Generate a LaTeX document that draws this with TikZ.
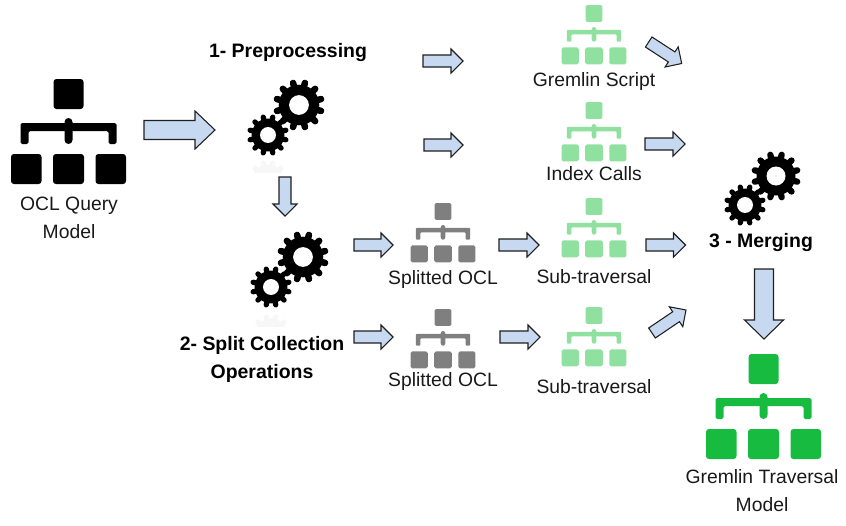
\documentclass[tikz,border=0pt]{standalone}
\usepackage{fontspec}
\setmainfont{Liberation Sans}
\definecolor{arrowfill}{HTML}{C6D9F1}
\definecolor{arrowline}{HTML}{1F1F1F}
\definecolor{lightgreen}{HTML}{90E0A0}
\definecolor{darkgreen}{HTML}{17BB3F}
\definecolor{midgrey}{HTML}{7F7F7F}
\tikzset{
  x=0.75pt,y=-0.75pt,
  blockarrow/.style={draw=arrowline,fill=arrowfill,line width=0.8pt,line join=miter},
  lbl/.style={font=\fontsize{14.5}{21}\selectfont,align=center,inner sep=0pt,text=black!90},
  steplabel/.style={font=\fontsize{14.6}{21}\selectfont\bfseries,align=center,inner sep=0pt,text=black}
}
% from x,y  to x,y  shaft width, head width, head length
\newcommand{\blockarr}[8]{%
  \coordinate (#1-a) at (#2,#3);
  \coordinate (#1-b) at (#4,#5);
  \pgfmathsetmacro{\arrL}{veclen(#4-#2,#5-#3)}%
  \pgfmathsetmacro{\arrA}{atan2(#5-#3,#4-#2)}%
  \begin{scope}[shift={(#1-a)},rotate=-\arrA]
    \draw[blockarrow] (0,-#6/2) -- (\arrL-#8,-#6/2) -- (\arrL-#8,-#7/2) -- (\arrL,0)
       -- (\arrL-#8,#7/2) -- (\arrL-#8,#6/2) -- (0,#6/2) -- cycle;
  \end{scope}}
% centre x, top y, scale, colour
\newcommand{\hierarchy}[5]{%
  \coordinate (#1) at (#2,#3);
  \begin{scope}[shift={(#1)},scale=#4]
    \pgfmathsetmacro{\rc}{2.2*#4}%
    \pgfmathsetmacro{\rs}{1.2*#4}%
    \fill[#5,rounded corners=\rc pt] (-15,0) rectangle (15,30);
    \fill[#5,rounded corners=\rc pt] (-57.5,75) rectangle (-27,105);
    \fill[#5,rounded corners=\rc pt] (-15.5,75) rectangle (15.5,105);
    \fill[#5,rounded corners=\rc pt] (27,75) rectangle (57.5,105);
    \fill[#5,rounded corners=\rs pt] (-48,65) -- (-48,44) -- (48,44) -- (48,65) -- (40,65)
       -- (40,52) -- (-40,52) -- (-40,65) -- cycle;
    \pgfmathsetmacro{\rt}{3*#4}%
    \fill[#5,rounded corners=\rt pt] (-4,39) rectangle (4,65);
  \end{scope}}
% centre x,y, radius, colour
\newcommand{\gearshape}[4]{%
  \begin{scope}[shift={(#1,#2)}]
    \pgfmathsetmacro{\gw}{#3*0.75*0.25}%
    \fill[#4] (0,0) circle[radius=#3*0.78];
    \foreach \gi in {0,30,...,330}{
      \draw[#4,line width=\gw pt,line cap=round]
        (\gi+15:#3*0.6) -- (\gi+15:#3*0.88);
    }
    \fill[white] (0,0) circle[radius=#3*0.38];
  \end{scope}}
\begin{document}
\begin{tikzpicture}
\useasboundingbox (0,0) rectangle (846,525);
% faint reflections
\begin{scope}
  \clip (245,160) rectangle (290,172);
  \gearshape{268}{181}{21}{black!3}
\end{scope}
\begin{scope}
  \clip (248,314) rectangle (293,326);
  \gearshape{271}{335}{21}{black!3}
\end{scope}
% gears
\gearshape{299}{105}{26}{black}
\gearshape{268}{135}{21}{black}
\gearshape{303}{257}{26}{black}
\gearshape{271}{287}{21}{black}
\gearshape{776}{176}{25}{black}
\gearshape{745}{205}{21}{black}
% hierarchy icons
\hierarchy{oclicon}{68.5}{79}{1}{black}
\hierarchy{scripticon}{594}{5}{0.565}{lightgreen}
\hierarchy{indexicon}{594}{102}{0.565}{lightgreen}
\hierarchy{subaicon}{594}{198}{0.565}{lightgreen}
\hierarchy{subbicon}{594}{307}{0.565}{lightgreen}
\hierarchy{splitaicon}{443}{203}{0.565}{midgrey}
\hierarchy{splitbicon}{443}{309}{0.565}{midgrey}
\hierarchy{gremlinicon}{763.5}{354}{1}{darkgreen}
% texts
\node[lbl] (ocl) at (69,218) {OCL Query\\Model};
\node[lbl] (script) at (594,81) {Gremlin Script};
\node[lbl] (index) at (594,174) {Index Calls};
\node[lbl] (splita) at (443,279) {Splitted OCL};
\node[lbl] (suba) at (594,277) {Sub-traversal};
\node[lbl] (splitb) at (443,381) {Splitted OCL};
\node[lbl] (subb) at (594,387) {Sub-traversal};
\node[lbl] (gremlin) at (762,491) {Gremlin Traversal\\Model};
\node[steplabel] (pre) at (288,53) {1- Preprocessing};
\node[steplabel] (splitstep) at (262,359) {2- Split Collection\\Operations};
\node[steplabel] (merge) at (761,243) {3 - Merging};
% block arrows
\blockarr{aa}{144}{130}{215}{130}{19}{38}{20}
\blockarr{ab}{285}{177}{285}{216}{12}{24}{12}
\blockarr{ac}{423}{61}{463}{61}{12}{24}{12}
\blockarr{ad}{424}{145}{463}{145}{12}{24}{12}
\blockarr{ae}{648.7}{42}{681.7}{63.5}{12}{24}{12}
\blockarr{af}{645}{144}{685}{144}{12}{24}{12}
\blockarr{ag}{354}{245}{393}{245}{12}{24}{12}
\blockarr{ah}{499}{245}{539}{245}{12}{24}{12}
\blockarr{ai}{646}{245}{685.5}{245}{12}{24}{12}
\blockarr{aj}{354}{337}{393}{337}{12}{24}{12}
\blockarr{ak}{500}{337}{540}{337}{12}{24}{12}
\blockarr{al}{652}{333}{686}{310}{12}{24}{12}
\blockarr{am}{764}{269}{764}{339}{19}{39}{19}
\end{tikzpicture}
\end{document}
